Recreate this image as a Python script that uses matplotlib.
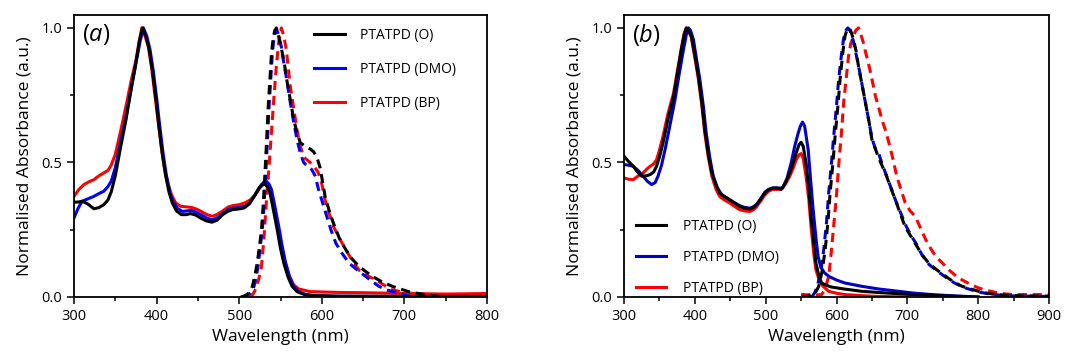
import matplotlib
matplotlib.use('Agg')
import matplotlib.pyplot as plt
from matplotlib.ticker import MultipleLocator

plt.rcParams['font.family'] = ['Open Sans', 'DejaVu Sans']
plt.rcParams['mathtext.fontset'] = 'custom'
plt.rcParams['mathtext.rm'] = 'Open Sans'
plt.rcParams['mathtext.it'] = 'Open Sans:italic'

labels = ['PTATPD (O)', 'PTATPD (DMO)', 'PTATPD (BP)']

# ---- panel (a): absorption (solid) and emission (dashed)
a_O_abs_x = [300, 305, 310, 317, 324, 330, 336, 341, 345, 350, 356, 363, 369, 375, 379, 383, 387, 391, 395, 399, 403, 407, 411, 415, 419, 424, 430, 436, 441, 447, 453, 460, 467, 473, 480, 486, 492, 499, 506, 512, 518, 524, 528, 531, 534, 537, 541, 546, 550, 554, 559, 564, 570, 578, 590, 620, 700, 800]
a_O_abs_y = [0.352, 0.353, 0.356, 0.345, 0.328, 0.332, 0.343, 0.36, 0.39, 0.45, 0.55, 0.66, 0.77, 0.87, 0.95, 1.0, 0.97, 0.92, 0.84, 0.74, 0.63, 0.53, 0.45, 0.39, 0.35, 0.32, 0.306, 0.306, 0.31, 0.305, 0.294, 0.283, 0.278, 0.285, 0.306, 0.318, 0.325, 0.327, 0.331, 0.345, 0.374, 0.405, 0.418, 0.42, 0.41, 0.39, 0.33, 0.25, 0.18, 0.126, 0.075, 0.04, 0.02, 0.01, 0.005, 0.003, 0.002, 0.002]
a_DMO_abs_x = [300, 305, 310, 317, 324, 330, 336, 341, 345, 350, 356, 363, 369, 375, 380, 384, 388, 392, 396, 400, 404, 408, 412, 416, 420, 425, 431, 437, 442, 448, 454, 461, 468, 474, 481, 487, 493, 500, 507, 513, 519, 525, 530, 533, 536, 539, 543, 548, 552, 556, 561, 566, 572, 580, 590, 620, 700, 800]
a_DMO_abs_y = [0.294, 0.33, 0.356, 0.365, 0.374, 0.384, 0.393, 0.41, 0.43, 0.48, 0.57, 0.67, 0.77, 0.87, 0.95, 1.0, 0.97, 0.92, 0.84, 0.74, 0.63, 0.53, 0.45, 0.39, 0.355, 0.33, 0.318, 0.32, 0.322, 0.315, 0.305, 0.293, 0.287, 0.295, 0.312, 0.325, 0.33, 0.333, 0.337, 0.35, 0.378, 0.41, 0.428, 0.43, 0.42, 0.40, 0.34, 0.26, 0.19, 0.13, 0.075, 0.04, 0.02, 0.01, 0.005, 0.003, 0.002, 0.002]
a_BP_abs_x = [300, 306, 312, 318, 324, 330, 336, 341, 345, 350, 356, 363, 369, 375, 379, 382, 386, 390, 394, 398, 402, 406, 410, 414, 418, 423, 429, 436, 442, 448, 454, 461, 468, 474, 481, 487, 493, 500, 507, 513, 519, 525, 529, 532, 535, 538, 542, 547, 551, 556, 561, 566, 572, 586, 620, 650, 700, 750, 800]
a_BP_abs_y = [0.374, 0.40, 0.418, 0.428, 0.436, 0.45, 0.461, 0.47, 0.49, 0.53, 0.61, 0.71, 0.80, 0.88, 0.95, 1.0, 0.97, 0.93, 0.85, 0.75, 0.65, 0.55, 0.47, 0.42, 0.38, 0.35, 0.337, 0.335, 0.333, 0.327, 0.318, 0.306, 0.30, 0.308, 0.322, 0.335, 0.34, 0.343, 0.35, 0.36, 0.378, 0.405, 0.418, 0.42, 0.41, 0.39, 0.33, 0.26, 0.19, 0.12, 0.075, 0.045, 0.03, 0.02, 0.017, 0.016, 0.013, 0.011, 0.013]

a_O_em_x = [502, 506, 510, 513, 516, 519, 522, 525, 527, 529, 531, 533, 535, 537, 539, 541, 543, 545, 547, 549, 552, 555, 558, 562, 566, 570, 574, 580, 586, 590, 594, 598, 604, 609, 614, 621, 629, 637, 645, 653, 661, 672, 685, 695, 705, 715, 725, 737, 750]
a_O_em_y = [0.0, 0.004, 0.01, 0.02, 0.04, 0.08, 0.13, 0.2, 0.25, 0.34, 0.45, 0.57, 0.70, 0.80, 0.9, 0.96, 0.99, 1.0, 0.98, 0.95, 0.91, 0.86, 0.80, 0.73, 0.66, 0.61, 0.573, 0.56, 0.55, 0.54, 0.52, 0.48, 0.374, 0.32, 0.275, 0.22, 0.176, 0.14, 0.114, 0.095, 0.077, 0.058, 0.04, 0.03, 0.02, 0.014, 0.009, 0.004, 0.0]
a_DMO_em_x = [504, 508, 512, 515, 518, 521, 523, 526, 528, 530, 532, 534, 536, 538, 540, 542, 544, 546, 548, 551, 554, 558, 562, 566, 570, 574, 578, 583, 588, 592, 596, 601, 606, 611, 617, 625, 633, 643, 653, 661, 669, 680, 693, 702, 710]
a_DMO_em_y = [0.0, 0.004, 0.01, 0.02, 0.04, 0.08, 0.12, 0.2, 0.25, 0.34, 0.45, 0.57, 0.70, 0.80, 0.9, 0.96, 0.99, 0.99, 0.97, 0.93, 0.87, 0.80, 0.72, 0.65, 0.585, 0.535, 0.50, 0.485, 0.473, 0.45, 0.40, 0.35, 0.30, 0.25, 0.20, 0.16, 0.126, 0.10, 0.077, 0.058, 0.04, 0.025, 0.015, 0.007, 0.0]
a_BP_em_x = [514, 517, 520, 524, 527, 530, 533, 536, 539, 542, 545, 548, 551, 554, 557, 562, 566, 570, 574, 578, 582, 586, 591, 596, 600, 604, 609, 614, 621, 629, 637, 645, 655, 665, 675, 685, 695, 705, 720, 740]
a_BP_em_y = [0.0, 0.012, 0.03, 0.07, 0.114, 0.22, 0.36, 0.48, 0.61, 0.74, 0.86, 0.95, 1.0, 0.97, 0.92, 0.78, 0.70, 0.62, 0.56, 0.52, 0.51, 0.50, 0.485, 0.46, 0.42, 0.36, 0.31, 0.263, 0.22, 0.176, 0.135, 0.10, 0.08, 0.064, 0.045, 0.027, 0.02, 0.015, 0.01, 0.005]

# ---- panel (b)
b_O_abs_x = [300, 306, 313, 319, 325, 331, 337, 342, 346, 350, 355, 362, 370, 376, 381, 385, 388, 391, 395, 400, 405, 410, 414, 419, 424, 430, 435, 442, 449, 456, 463, 470, 478, 483, 487, 493, 499, 504, 510, 516, 522, 528, 534, 539, 543, 547, 550, 553, 557, 561, 564, 568, 571, 575, 579, 586, 593, 610, 636, 670, 707, 750, 800]
b_O_abs_y = [0.523, 0.505, 0.486, 0.465, 0.449, 0.45, 0.455, 0.465, 0.486, 0.52, 0.572, 0.66, 0.746, 0.84, 0.92, 0.975, 1.0, 0.99, 0.97, 0.9, 0.82, 0.72, 0.622, 0.53, 0.461, 0.415, 0.387, 0.373, 0.362, 0.35, 0.337, 0.33, 0.327, 0.333, 0.343, 0.365, 0.387, 0.398, 0.405, 0.405, 0.40, 0.425, 0.461, 0.50, 0.535, 0.565, 0.575, 0.56, 0.498, 0.40, 0.30, 0.2, 0.126, 0.08, 0.052, 0.043, 0.037, 0.03, 0.021, 0.015, 0.009, 0.004, 0.0]
b_DMO_abs_x = [300, 306, 313, 320, 327, 333, 339, 344, 348, 353, 358, 365, 372, 378, 384, 388, 391, 394, 398, 402, 407, 412, 416, 421, 426, 432, 438, 444, 450, 456, 463, 470, 478, 483, 488, 493, 499, 504, 510, 517, 524, 530, 536, 541, 546, 549, 552, 555, 560, 563, 567, 571, 574, 578, 583, 589, 600, 612, 635, 659, 685, 707, 730, 754, 800]
b_DMO_abs_y = [0.492, 0.49, 0.486, 0.47, 0.449, 0.43, 0.418, 0.425, 0.449, 0.49, 0.548, 0.64, 0.733, 0.83, 0.92, 0.975, 1.0, 0.99, 0.957, 0.89, 0.81, 0.71, 0.61, 0.52, 0.449, 0.405, 0.38, 0.37, 0.36, 0.35, 0.34, 0.333, 0.33, 0.336, 0.345, 0.365, 0.39, 0.4, 0.405, 0.405, 0.405, 0.44, 0.498, 0.56, 0.61, 0.635, 0.65, 0.635, 0.548, 0.45, 0.325, 0.22, 0.151, 0.11, 0.09, 0.077, 0.063, 0.052, 0.04, 0.03, 0.022, 0.015, 0.01, 0.006, 0.0]
b_BP_abs_x = [300, 306, 313, 320, 327, 332, 337, 342, 346, 350, 355, 362, 370, 376, 381, 385, 388, 391, 395, 400, 405, 410, 414, 419, 424, 430, 435, 442, 449, 456, 463, 470, 478, 483, 487, 493, 499, 504, 510, 516, 522, 528, 534, 539, 543, 547, 550, 553, 557, 561, 564, 568, 571, 576, 581, 589, 600, 612, 650, 700]
b_BP_abs_y = [0.442, 0.438, 0.436, 0.45, 0.461, 0.475, 0.486, 0.495, 0.51, 0.545, 0.597, 0.68, 0.758, 0.85, 0.925, 0.98, 1.0, 0.99, 0.965, 0.89, 0.81, 0.71, 0.61, 0.52, 0.45, 0.40, 0.374, 0.36, 0.35, 0.337, 0.325, 0.32, 0.318, 0.325, 0.335, 0.357, 0.38, 0.393, 0.40, 0.40, 0.40, 0.42, 0.449, 0.48, 0.51, 0.528, 0.533, 0.515, 0.449, 0.36, 0.263, 0.16, 0.10, 0.06, 0.04, 0.021, 0.014, 0.009, 0.003, 0.0]

b_O_em_x = [551, 560, 565, 570, 575, 580, 584, 588, 591, 595, 598, 602, 605, 609, 612, 615, 617, 620, 624, 628, 631, 636, 641, 646, 650, 655, 659, 664, 669, 676, 683, 690, 697, 704, 711, 720, 730, 742, 754, 765, 777, 789, 801, 813, 825, 837, 848, 870, 900]
b_O_em_y = [0.002, 0.003, 0.005, 0.015, 0.04, 0.1, 0.176, 0.28, 0.387, 0.50, 0.597, 0.71, 0.808, 0.91, 0.97, 0.995, 1.0, 0.99, 0.957, 0.91, 0.858, 0.79, 0.72, 0.65, 0.585, 0.55, 0.52, 0.49, 0.461, 0.41, 0.362, 0.31, 0.26, 0.23, 0.20, 0.16, 0.126, 0.10, 0.077, 0.057, 0.04, 0.03, 0.021, 0.014, 0.009, 0.007, 0.005, 0.004, 0.003]
b_DMO_em_x = [565, 569, 573, 578, 582, 586, 589, 593, 596, 600, 603, 607, 610, 613, 616, 619, 623, 627, 631, 636, 641, 646, 650, 655, 660, 665, 670, 677, 684, 691, 698, 705, 712, 721, 731, 743, 755, 766, 778, 790, 802, 814, 826, 838, 850, 900]
b_DMO_em_y = [0.0, 0.015, 0.04, 0.1, 0.176, 0.28, 0.387, 0.50, 0.597, 0.71, 0.808, 0.9, 0.96, 0.99, 1.0, 0.99, 0.96, 0.91, 0.86, 0.79, 0.72, 0.65, 0.59, 0.55, 0.53, 0.49, 0.455, 0.405, 0.355, 0.31, 0.265, 0.23, 0.20, 0.155, 0.12, 0.095, 0.072, 0.053, 0.037, 0.027, 0.018, 0.012, 0.008, 0.006, 0.004, 0.002]
b_BP_em_x = [550, 558, 565, 572, 579, 583, 586, 589, 592, 596, 600, 603, 607, 610, 614, 617, 620, 624, 627, 631, 634, 638, 641, 645, 650, 655, 660, 664, 669, 674, 680, 685, 691, 697, 704, 711, 718, 726, 733, 740, 750, 759, 768, 777, 789, 801, 813, 825, 837, 848, 870, 900]
b_BP_em_y = [0.01, 0.008, 0.01, 0.008, 0.009, 0.025, 0.05, 0.077, 0.15, 0.263, 0.38, 0.486, 0.61, 0.72, 0.82, 0.895, 0.94, 0.97, 0.99, 1.0, 0.98, 0.944, 0.91, 0.87, 0.81, 0.746, 0.70, 0.66, 0.62, 0.573, 0.51, 0.449, 0.40, 0.35, 0.32, 0.30, 0.26, 0.213, 0.18, 0.151, 0.125, 0.10, 0.08, 0.064, 0.047, 0.033, 0.024, 0.017, 0.012, 0.009, 0.009, 0.009]

fig = plt.figure(figsize=(10.65, 3.56), dpi=100)
ax1 = fig.add_axes([74/1065, 59/356, 413/1065, 282/356])
ax2 = fig.add_axes([624/1065, 59/356, 425/1065, 282/356])

lw = 2.2
dash = (3.0, 1.9)
cols_a = ['black', '#0000ff', '#ff0000']
cols_b = ['black', '#0000c8', '#ff0000']

abs_a = [(a_O_abs_x, a_O_abs_y), (a_DMO_abs_x, a_DMO_abs_y), (a_BP_abs_x, a_BP_abs_y)]
em_a = [(a_O_em_x, a_O_em_y), (a_DMO_em_x, a_DMO_em_y), (a_BP_em_x, a_BP_em_y)]
abs_b = [(b_O_abs_x, b_O_abs_y), (b_DMO_abs_x, b_DMO_abs_y), (b_BP_abs_x, b_BP_abs_y)]
em_b = [(b_O_em_x, b_O_em_y), (b_DMO_em_x, b_DMO_em_y), (b_BP_em_x, b_BP_em_y)]

for i in [2, 1, 0]:
    ax1.plot(*abs_a[i], c=cols_a[i], lw=lw, label=labels[i])
    ax1.plot(*em_a[i], c=cols_a[i], lw=lw, ls=(0, dash))
    ax2.plot(*abs_b[i], c=cols_b[i], lw=lw, label=labels[i])
    ax2.plot(*em_b[i], c=cols_b[i], lw=lw, ls=(0, dash))

for ax, xmax in [(ax1, 800), (ax2, 900)]:
    ax.set_xlim(300, xmax)
    ax.set_ylim(0, 1.048)
    ax.set_xticks(range(300, xmax + 1, 100))
    ax.set_yticks([0, 0.5, 1.0])
    ax.set_yticklabels(['0.0', '0.5', '1.0'])
    ax.xaxis.set_minor_locator(MultipleLocator(50))
    ax.yaxis.set_minor_locator(MultipleLocator(0.25))
    ax.tick_params(which='both', direction='out', width=1.1, labelsize=10.5)
    ax.tick_params(which='major', length=5)
    ax.tick_params(which='minor', length=3)
    for s in ax.spines.values():
        s.set_linewidth(1.3)
    ax.set_xlabel('Wavelength (nm)', fontsize=12.5, labelpad=4)
    ax.set_ylabel('Normalised Absorbance (a.u.)', fontsize=12.5, labelpad=6)

ax1.text(0.02, 0.93, r'$(\mathit{a})$', transform=ax1.transAxes, fontsize=17, va='center')
ax2.text(0.02, 0.93, r'$(\mathit{b})$', transform=ax2.transAxes, fontsize=17, va='center')

h, l = ax1.get_legend_handles_labels()
ax1.legend(h[::-1], l[::-1], loc='upper left', bbox_to_anchor=(0.581, 0.955), frameon=False,
           fontsize=10, borderpad=0, borderaxespad=0, handlelength=2.2, handletextpad=1.1,
           labelspacing=1.37)
h, l = ax2.get_legend_handles_labels()
ax2.legend(h[::-1], l[::-1], loc='upper left', bbox_to_anchor=(0.028, 0.277), frameon=False,
           fontsize=10, borderpad=0, borderaxespad=0, handlelength=2.2, handletextpad=1.2,
           labelspacing=1.16)

fig.savefig('out.png', dpi=100)
